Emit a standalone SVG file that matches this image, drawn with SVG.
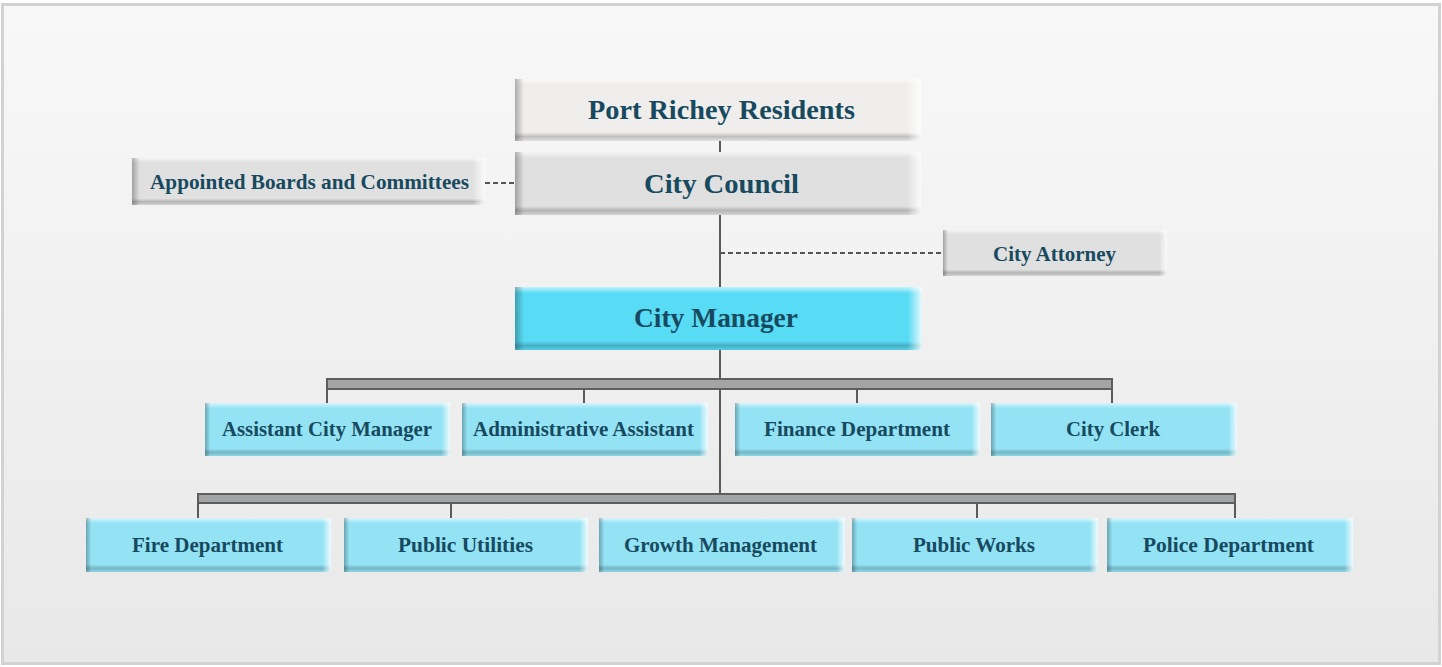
<svg xmlns="http://www.w3.org/2000/svg" width="1442" height="667" viewBox="0 0 1442 667">
<defs>
<linearGradient id="panelG" x1="0" y1="0" x2="0" y2="1">
<stop offset="0" stop-color="#f8f8f8"/>
<stop offset="1" stop-color="#e8e8e8"/>
</linearGradient>
<linearGradient id="gv" x1="0" y1="0" x2="0" y2="1">
<stop offset="0" stop-color="#ffffff" stop-opacity="0.65"/>
<stop offset="0.1" stop-color="#ffffff" stop-opacity="0"/>
<stop offset="0.86" stop-color="#000000" stop-opacity="0"/>
<stop offset="0.93" stop-color="#000000" stop-opacity="0.2"/>
<stop offset="1" stop-color="#000000" stop-opacity="0.05"/>
</linearGradient>
<linearGradient id="gh" x1="0" y1="0" x2="1" y2="0">
<stop offset="0" stop-color="#000000" stop-opacity="0.28"/>
<stop offset="0.022" stop-color="#000000" stop-opacity="0"/>
<stop offset="0.965" stop-color="#ffffff" stop-opacity="0"/>
<stop offset="1" stop-color="#ffffff" stop-opacity="0.85"/>
</linearGradient>
</defs>
<style>
.panel{fill:url(#panelG);stroke:#d2d2d2;stroke-width:3}
.grey{fill:#e0e0e0}
.light{fill:#efeeec}
.cyan{fill:#93e3f5}
.mgr{fill:#58dbf4}
.ovv{fill:url(#gv)}
.ovh{fill:url(#gh)}
text{font-family:"Liberation Serif","DejaVu Serif",serif;font-weight:bold;fill:#174a5f;text-anchor:middle}
.big{font-size:28px}
.sm{font-size:21px}
.solid{stroke:#5a5a5a;stroke-width:2;fill:none}
.dash{stroke:#555555;stroke-width:2;fill:none;stroke-dasharray:5 3}
.bar{fill:#a2a4a6;stroke:#5e5e5e;stroke-width:2}
</style>
<rect x="0" y="0" width="1442" height="667" fill="#ffffff"/>
<rect class="panel" x="2.5" y="4.5" width="1437" height="659"/>

<g id="connectors">
<line class="solid" x1="720" y1="141" x2="720" y2="152"/>
<line class="solid" x1="720" y1="215" x2="720" y2="287"/>
<line class="dash" x1="485" y1="183" x2="515" y2="183"/>
<line class="dash" x1="720" y1="253" x2="943" y2="253"/>
<line class="solid" x1="720" y1="350" x2="720" y2="494"/>
<rect class="bar" x="327" y="379" width="785" height="10"/>
<line class="solid" x1="327" y1="389" x2="327" y2="403"/>
<line class="solid" x1="584" y1="389" x2="584" y2="403"/>
<line class="solid" x1="857" y1="389" x2="857" y2="403"/>
<line class="solid" x1="1112" y1="389" x2="1112" y2="403"/>
<rect class="bar" x="198" y="494" width="1037" height="9"/>
<line class="solid" x1="198" y1="503" x2="198" y2="518"/>
<line class="solid" x1="451" y1="503" x2="451" y2="518"/>
<line class="solid" x1="977" y1="503" x2="977" y2="518"/>
<line class="solid" x1="1235" y1="503" x2="1235" y2="518"/>
</g>

<g id="residents">
<rect class="light" x="515" y="79" width="406" height="62"/>
<rect class="ovv" x="515" y="79" width="406" height="62"/>
<rect class="ovh" x="515" y="79" width="406" height="62"/>
<text class="big" x="721.5" y="119" textLength="267" lengthAdjust="spacingAndGlyphs">Port Richey Residents</text>
</g>
<g id="council">
<rect class="grey" x="515" y="152" width="406" height="63"/>
<rect class="ovv" x="515" y="152" width="406" height="63"/>
<rect class="ovh" x="515" y="152" width="406" height="63"/>
<text class="big" x="721.5" y="193" textLength="155" lengthAdjust="spacingAndGlyphs">City Council</text>
</g>
<g id="boards">
<rect class="grey" x="132" y="158" width="353" height="47"/>
<rect class="ovv" x="132" y="158" width="353" height="47"/>
<rect class="ovh" x="132" y="158" width="353" height="47"/>
<text class="sm" x="309.5" y="189" textLength="319" lengthAdjust="spacingAndGlyphs">Appointed Boards and Committees</text>
</g>
<g id="attorney">
<rect class="grey" x="943" y="230" width="224" height="46"/>
<rect class="ovv" x="943" y="230" width="224" height="46"/>
<rect class="ovh" x="943" y="230" width="224" height="46"/>
<text class="sm" x="1054.5" y="261" textLength="123" lengthAdjust="spacingAndGlyphs">City Attorney</text>
</g>
<g id="manager">
<rect class="mgr" x="515" y="287" width="407" height="63"/>
<rect class="ovv" x="515" y="287" width="407" height="63"/>
<rect class="ovh" x="515" y="287" width="407" height="63"/>
<text class="big" x="716" y="327" textLength="164" lengthAdjust="spacingAndGlyphs">City Manager</text>
</g>

<g id="asst-manager">
<rect class="cyan" x="205" y="403" width="245" height="53"/>
<rect class="ovv" x="205" y="403" width="245" height="53"/>
<rect class="ovh" x="205" y="403" width="245" height="53"/>
<text class="sm" x="327" y="436" textLength="210" lengthAdjust="spacingAndGlyphs">Assistant City Manager</text>
</g>
<g id="admin-asst">
<rect class="cyan" x="462" y="403" width="246" height="53"/>
<rect class="ovv" x="462" y="403" width="246" height="53"/>
<rect class="ovh" x="462" y="403" width="246" height="53"/>
<text class="sm" x="583.5" y="436" textLength="221" lengthAdjust="spacingAndGlyphs">Administrative Assistant</text>
</g>
<g id="finance">
<rect class="cyan" x="735" y="403" width="245" height="53"/>
<rect class="ovv" x="735" y="403" width="245" height="53"/>
<rect class="ovh" x="735" y="403" width="245" height="53"/>
<text class="sm" x="857" y="436" textLength="186" lengthAdjust="spacingAndGlyphs">Finance Department</text>
</g>
<g id="clerk">
<rect class="cyan" x="991" y="403" width="246" height="53"/>
<rect class="ovv" x="991" y="403" width="246" height="53"/>
<rect class="ovh" x="991" y="403" width="246" height="53"/>
<text class="sm" x="1113" y="436" textLength="94" lengthAdjust="spacingAndGlyphs">City Clerk</text>
</g>

<g id="fire">
<rect class="cyan" x="86" y="518" width="245" height="54"/>
<rect class="ovv" x="86" y="518" width="245" height="54"/>
<rect class="ovh" x="86" y="518" width="245" height="54"/>
<text class="sm" x="207.5" y="552" textLength="151" lengthAdjust="spacingAndGlyphs">Fire Department</text>
</g>
<g id="utilities">
<rect class="cyan" x="344" y="518" width="244" height="54"/>
<rect class="ovv" x="344" y="518" width="244" height="54"/>
<rect class="ovh" x="344" y="518" width="244" height="54"/>
<text class="sm" x="465.5" y="552" textLength="135" lengthAdjust="spacingAndGlyphs">Public Utilities</text>
</g>
<g id="growth">
<rect class="cyan" x="599" y="518" width="246" height="54"/>
<rect class="ovv" x="599" y="518" width="246" height="54"/>
<rect class="ovh" x="599" y="518" width="246" height="54"/>
<text class="sm" x="720.5" y="552" textLength="193" lengthAdjust="spacingAndGlyphs">Growth Management</text>
</g>
<g id="works">
<rect class="cyan" x="852" y="518" width="246" height="54"/>
<rect class="ovv" x="852" y="518" width="246" height="54"/>
<rect class="ovh" x="852" y="518" width="246" height="54"/>
<text class="sm" x="974" y="552" textLength="122" lengthAdjust="spacingAndGlyphs">Public Works</text>
</g>
<g id="police">
<rect class="cyan" x="1107" y="518" width="246" height="54"/>
<rect class="ovv" x="1107" y="518" width="246" height="54"/>
<rect class="ovh" x="1107" y="518" width="246" height="54"/>
<text class="sm" x="1228.5" y="552" textLength="171" lengthAdjust="spacingAndGlyphs">Police Department</text>
</g>
</svg>
